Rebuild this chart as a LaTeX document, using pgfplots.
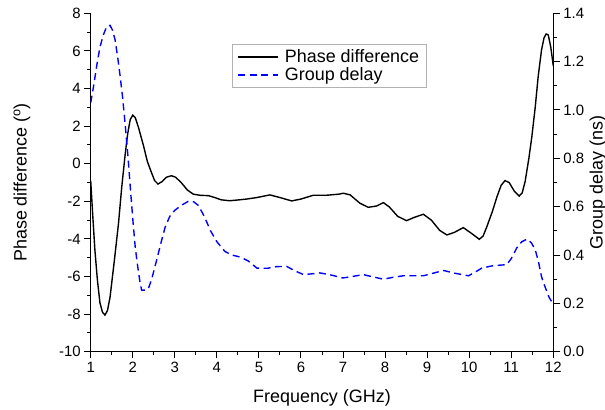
\documentclass[border=0pt]{standalone}
\usepackage{pgfplots}
\pgfplotsset{compat=1.18}
\usepackage{fontspec}
\setmainfont{Liberation Sans}
\definecolor{gdblue}{RGB}{0,0,255}
\begin{document}
\begin{tikzpicture}
\pgfplotsset{
  commonstyle/.style={
    scale only axis, width=462.6bp, height=338.4bp,
    xmin=1, xmax=12,
    tick align=outside,
    major tick length=6.5bp, minor tick length=3.5bp,
    every tick/.style={black, line width=1pt},
    axis line style={line width=1.2pt},
    tick label style={font=\fontsize{15}{17}\selectfont},
    label style={font=\fontsize{18}{20}\selectfont},
    /pgf/number format/assume math mode=true,
  }
}
\begin{axis}[commonstyle,
  axis x line*=bottom, axis y line*=left,
  ymin=-10, ymax=8,
  xtick={1,2,...,12}, minor x tick num=1,
  ytick={-10,-8,...,8}, minor y tick num=1,
  xlabel={Frequency (GHz)},
  xlabel style={at={(axis description cs:0.5,-0.136)}, anchor=center},
  ylabel={Phase difference (\textsuperscript{o})},
  ylabel style={at={(axis description cs:-0.1485,0.5)}, anchor=center, rotate=0},
]
\addplot[black, line width=1.4pt] coordinates {
(1.00,-0.9) (1.05,-2.8) (1.10,-4.6) (1.16,-6.2) (1.22,-7.4) (1.28,-7.9) (1.34,-8.05)
(1.40,-7.8) (1.46,-7.1) (1.56,-5.2) (1.66,-3.2) (1.74,-1.2) (1.82,0.5) (1.88,1.6)
(1.94,2.35) (2.00,2.58) (2.06,2.45) (2.14,1.9) (2.25,1.0) (2.35,0.1) (2.45,-0.5)
(2.52,-0.9) (2.60,-1.08) (2.70,-0.95) (2.80,-0.72) (2.92,-0.64) (3.02,-0.72)
(3.15,-1.0) (3.30,-1.4) (3.44,-1.62) (3.60,-1.68) (3.80,-1.70) (3.95,-1.80)
(4.10,-1.92) (4.30,-1.97) (4.50,-1.93) (4.71,-1.88) (4.95,-1.80) (5.26,-1.66)
(5.50,-1.80) (5.78,-1.98) (6.00,-1.88) (6.29,-1.68) (6.60,-1.68) (6.90,-1.62)
(7.01,-1.57) (7.17,-1.66) (7.40,-2.1) (7.60,-2.32) (7.80,-2.25) (7.96,-2.07)
(8.10,-2.3) (8.30,-2.8) (8.51,-3.03) (8.70,-2.85) (8.91,-2.69) (9.10,-3.0)
(9.30,-3.55) (9.47,-3.79) (9.65,-3.65) (9.86,-3.40) (10.05,-3.7) (10.24,-4.02)
(10.33,-3.85) (10.42,-3.35) (10.55,-2.55) (10.66,-1.76) (10.76,-1.15) (10.85,-0.90)
(10.95,-1.0) (11.07,-1.45) (11.19,-1.72) (11.26,-1.55) (11.33,-0.95) (11.42,0.3)
(11.49,1.44) (11.57,3.0) (11.64,4.63) (11.72,6.05) (11.78,6.7) (11.83,6.90)
(11.88,6.85) (11.94,6.2) (12.00,5.2)
};
\end{axis}
\begin{axis}[commonstyle,
  axis x line=none, axis y line*=right,
  ymin=0, ymax=1.4,
  ytick={0,0.2,...,1.4}, minor y tick num=1,
  yticklabel style={/pgf/number format/.cd, fixed, fixed zerofill, precision=1},
  ylabel={Group delay (ns)},
  ylabel style={at={(axis description cs:1.0966,0.5)}, anchor=center, rotate=0},
  legend style={at={(axis description cs:0.3055,0.909)}, anchor=north west,
    draw=gray!60, font=\fontsize{18}{20}\selectfont,
    inner xsep=5bp, inner ysep=3bp, row sep=0bp},
  legend cell align=left,
  legend image code/.code={\draw[#1, line width=2pt] (0bp,0bp) -- (40bp,0bp); \path (44bp,0bp);},
]
\addlegendimage{black, solid}
\addlegendentry{Phase difference}
\addplot[gdblue, line width=1.4pt, dash pattern=on 7bp off 4.5bp] coordinates {
(1.00,1.03) (1.07,1.10) (1.14,1.18) (1.22,1.26) (1.30,1.31) (1.38,1.345) (1.46,1.35)
(1.52,1.33) (1.58,1.29) (1.64,1.22) (1.70,1.14) (1.76,1.05) (1.82,0.94) (1.89,0.80)
(1.95,0.66) (2.01,0.53) (2.06,0.43) (2.12,0.35) (2.17,0.29) (2.21,0.255) (2.30,0.255)
(2.37,0.26) (2.45,0.30) (2.57,0.38) (2.67,0.45) (2.77,0.515) (2.88,0.56) (3.00,0.585)
(3.15,0.605) (3.32,0.622) (3.45,0.62) (3.56,0.605) (3.70,0.56) (3.85,0.50) (4.00,0.455)
(4.19,0.415) (4.35,0.40) (4.55,0.392) (4.75,0.375) (4.95,0.346) (5.20,0.345)
(5.42,0.352) (5.66,0.353) (5.85,0.335) (6.06,0.319) (6.25,0.322) (6.45,0.326)
(6.70,0.318) (7.00,0.305) (7.25,0.312) (7.48,0.319) (7.70,0.31) (7.96,0.300)
(8.20,0.308) (8.43,0.314) (8.91,0.314) (9.15,0.325) (9.39,0.336) (9.65,0.325)
(9.98,0.314) (10.15,0.33) (10.30,0.346) (10.57,0.356) (10.89,0.36) (11.00,0.385)
(11.13,0.429) (11.25,0.455) (11.38,0.466) (11.48,0.45) (11.57,0.422) (11.65,0.37)
(11.72,0.31) (11.80,0.27) (11.90,0.225) (12.00,0.195)
};
\addlegendentry{Group delay}
\end{axis}
\pgfresetboundingbox
\useasboundingbox (-90.7bp,-58.3bp) rectangle (514.3bp,351.7bp);
\end{tikzpicture}
\end{document}
